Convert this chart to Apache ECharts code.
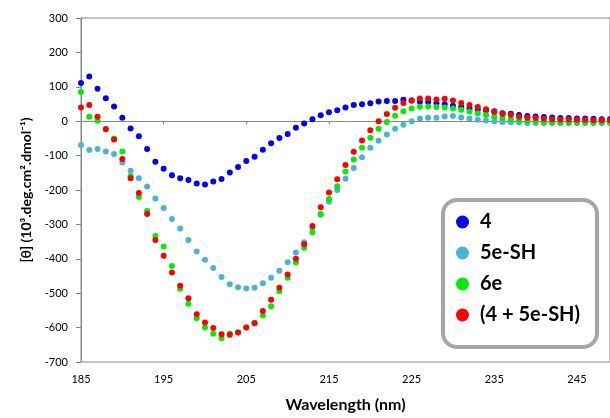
<!DOCTYPE html>
<html><head><meta charset="utf-8">
<script src="https://cdn.jsdelivr.net/npm/echarts@6/dist/echarts.min.js"></script>
<style>html,body{margin:0;padding:0;background:#fff}#c{width:610px;height:418px}</style>
</head><body><div id="c"></div>
<script>
const wavelengths = ['185','186','187','188','189','190','191','192','193','194',
'195','196','197','198','199','200','201','202','203','204',
'205','206','207','208','209','210','211','212','213','214',
'215','216','217','218','219','220','221','222','223','224',
'225','226','227','228','229','230','231','232','233','234',
'235','236','237','238','239','240','241','242','243','244',
'245','246','247','248','249'];
const seriesNames = ['4', '5e-SH', '6e', '(4 + 5e-SH)'];
const s4 = [111,130,94,67,43,10,-21,-44,-81,-118,
-138,-157,-166,-171,-181,-184,-175,-168,-149,-133,
-116,-103,-83,-64,-49,-37,-19,-7,6,17,
26,32,40,47,49,52,57,59,59,62,
60,56,56,52,49,45,41,37,34,31,
29,23,22,18,15,14,12,11,9,9,
8,8,7,6,6];
const s5eSH = [-69,-84,-81,-88,-95,-120,-144,-166,-190,-225,
-252,-284,-312,-345,-379,-403,-427,-453,-474,-483,
-486,-484,-471,-455,-435,-410,-382,-352,-313,-272,
-234,-200,-167,-136,-105,-77,-57,-39,-22,-10,
0,8,10,10,14,15,11,8,4,2,
0,-2,-3,-4,-5,-5,-5,-5,-5,-5,
-5,-5,-5,-5,-5];
const s6e = [85,13,1,-24,-50,-88,-160,-220,-261,-334,
-364,-421,-487,-531,-573,-600,-618,-631,-618,-614,
-600,-586,-565,-538,-494,-455,-411,-368,-323,-270,
-226,-189,-146,-111,-77,-48,-22,-2,16,29,
37,42,43,41,40,37,33,28,23,18,
13,9,6,2,0,0,-3,-4,-4,-4,
-4,-4,-4,-4,-4];
const sMix = [40,47,13,-23,-53,-110,-166,-209,-270,-345,
-391,-440,-478,-515,-561,-585,-601,-619,-621,-614,
-600,-587,-552,-519,-484,-446,-400,-358,-305,-250,
-207,-169,-127,-89,-56,-26,0,21,39,53,
60,66,66,63,65,60,53,47,41,35,
27,21,19,13,10,9,7,6,5,5,
4,4,3,3,3];
const colors = ['#0000ff', '#4bb4d6', '#00ee00', '#ff0000'];
const allValues = [s4, s5eSH, s6e, sMix];

const FONT = 'Lato, "Open Sans", sans-serif';
const chart = echarts.init(document.getElementById('c'), null, {renderer: 'canvas'});
const series = allValues.map((vals, k) => ({
  name: seriesNames[k],
  type: 'scatter',
  xAxisIndex: 0,
  yAxisIndex: 0,
  symbol: 'circle',
  symbolSize: 6,
  itemStyle: {color: colors[k], opacity: 1},
  data: vals.map((v, i) => [i, v]),
  z: 2 + k
}));
chart.setOption({
  animation: false,
  backgroundColor: '#fff',
  grid: {left: 81, top: 18, right: -2, bottom: 54, show: true, borderColor: '#878787', borderWidth: 1, backgroundColor: 'transparent'},
  xAxis: [{
    type: 'category', data: wavelengths, boundaryGap: false, position: 'bottom',
    axisLine: {show: false, onZero: false},
    axisTick: {show: false},
    axisLabel: {interval: 9, margin: 12, fontSize: 11, color: '#000', fontFamily: FONT},
    splitLine: {show: false},
    name: 'Wavelength (nm)', nameLocation: 'middle', nameGap: 35,
    nameTextStyle: {fontSize: 16, fontWeight: 'bold', color: '#000', fontFamily: FONT}
  }, {
    type: 'category', data: wavelengths, boundaryGap: false, position: 'bottom',
    axisLine: {show: true, onZero: true, lineStyle: {color: '#878787', width: 1}},
    axisTick: {show: true, interval: 9, length: 3, inside: false, lineStyle: {color: '#878787'}},
    axisLabel: {show: false},
    splitLine: {show: false}
  }],
  yAxis: {
    type: 'value', min: -700, max: 300, interval: 100,
    axisLine: {show: true, lineStyle: {color: '#878787', width: 1}},
    axisTick: {show: true, length: 5, lineStyle: {color: '#878787'}},
    axisLabel: {margin: 13, fontSize: 11, color: '#000', fontFamily: FONT},
    splitLine: {show: false},
    name: '[θ] (10³.deg.cm².dmol⁻¹)', nameLocation: 'middle', nameGap: 40, nameRotate: 90,
    nameTextStyle: {fontSize: 14, fontWeight: 'bold', color: '#000', fontFamily: FONT}
  },
  legend: {
    orient: 'vertical', left: 443, top: 200,
    padding: [12, 17, 22, 13],
    itemGap: 11, itemWidth: 13, itemHeight: 13,
    icon: 'circle',
    borderColor: '#a6a6a6', borderWidth: 4, borderRadius: 14, backgroundColor: '#fff',
    data: seriesNames,
    textStyle: {fontSize: 20, fontWeight: 'bold', color: '#000', fontFamily: FONT, padding: [0, 0, 0, 6]}
  },
  series: series
});
</script></body></html>
